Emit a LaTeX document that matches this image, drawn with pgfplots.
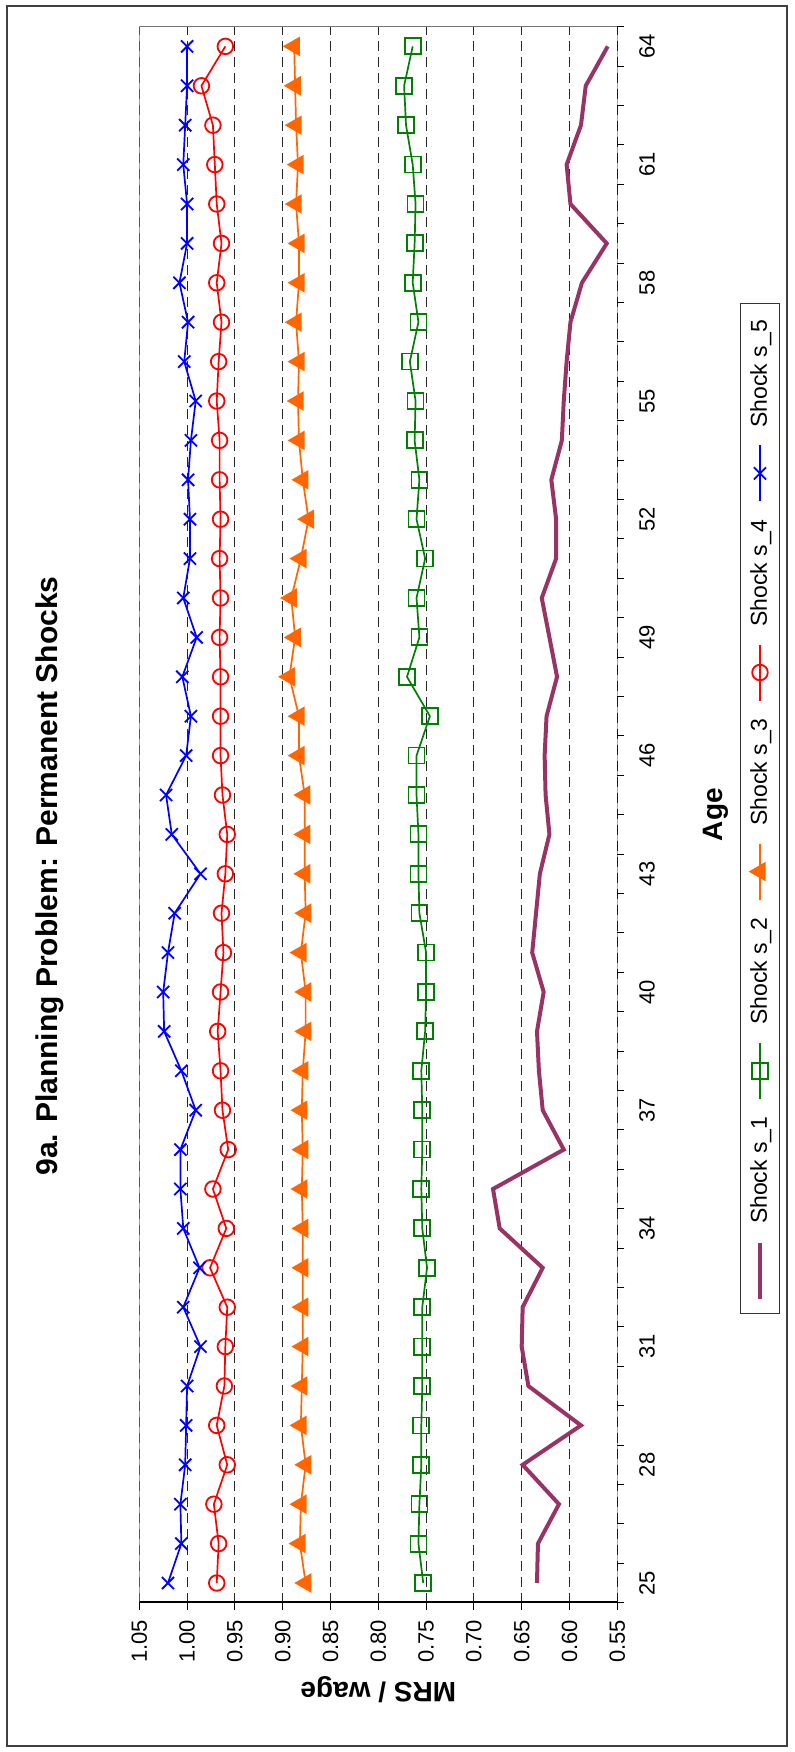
\documentclass[border=0pt]{standalone}
\usepackage{pgfplots}
\usepackage{pgfplotstable}
\pgfplotsset{compat=1.18}
\usepackage{fontspec}
\setmainfont{Liberation Sans}
\usepackage{graphicx}
\definecolor{sOne}{HTML}{993366}
\definecolor{sTwo}{HTML}{008000}
\definecolor{sThree}{HTML}{FF6600}
\definecolor{sFour}{HTML}{FF0000}
\definecolor{sFive}{HTML}{0000FF}
\pgfplotstableread{
age s1 s2 s3 s4 s5
25 0.634 0.753 0.876 0.969 1.020
26 0.633 0.758 0.882 0.967 1.006
27 0.611 0.757 0.881 0.972 1.007
28 0.649 0.755 0.876 0.958 1.002
29 0.588 0.755 0.881 0.969 1.001
30 0.643 0.754 0.880 0.961 1.000
31 0.650 0.754 0.879 0.960 0.986
32 0.649 0.754 0.879 0.958 1.004
33 0.628 0.749 0.879 0.976 0.987
34 0.673 0.754 0.879 0.959 1.004
35 0.680 0.755 0.880 0.973 1.007
36 0.606 0.754 0.879 0.957 1.007
37 0.628 0.754 0.880 0.963 0.991
38 0.632 0.755 0.879 0.965 1.006
39 0.634 0.751 0.876 0.968 1.024
40 0.627 0.750 0.876 0.965 1.025
41 0.639 0.750 0.881 0.962 1.020
42 0.635 0.757 0.876 0.964 1.013
43 0.631 0.758 0.877 0.960 0.986
44 0.621 0.758 0.877 0.958 1.016
45 0.625 0.760 0.877 0.963 1.022
46 0.626 0.760 0.883 0.965 1.001
47 0.624 0.746 0.883 0.965 0.996
48 0.613 0.770 0.893 0.965 1.005
49 0.621 0.757 0.887 0.966 0.990
50 0.629 0.760 0.891 0.965 1.004
51 0.614 0.751 0.881 0.966 0.997
52 0.614 0.760 0.873 0.965 0.997
53 0.619 0.757 0.879 0.966 0.999
54 0.608 0.762 0.883 0.966 0.996
55 0.606 0.761 0.884 0.969 0.991
56 0.603 0.767 0.883 0.967 1.003
57 0.599 0.758 0.886 0.964 0.999
58 0.587 0.764 0.883 0.969 1.008
59 0.561 0.762 0.883 0.964 1.000
60 0.599 0.761 0.886 0.969 1.000
61 0.603 0.764 0.884 0.971 1.004
62 0.588 0.771 0.886 0.973 1.002
63 0.583 0.773 0.887 0.985 1.000
64 0.560 0.764 0.888 0.960 1.000
}\datatable
\begin{document}
\rotatebox{90}{%
\begin{tikzpicture}
\useasboundingbox (0,0) rectangle (876pt,397pt);
\draw[line width=1.2pt, color=black!75] (3pt,3.5pt) rectangle (873pt,393.5pt);
\begin{axis}[
  at={(74.65pt,88.35pt)}, anchor=south west,
  scale only axis, width=788pt, height=239pt,
  xmin=24.5, xmax=64.5, ymin=0.55, ymax=1.05,
  xtick={25,28,31,34,37,40,43,46,49,52,55,58,61,64},
  minor xtick={24.5,25.5,...,64.5},
  ytick={0.55,0.60,0.65,0.70,0.75,0.80,0.85,0.90,0.95,1.00,1.05},
  tick align=outside,
  xtick pos=lower, ytick pos=left,
  major tick length=3.5pt, minor tick length=3.5pt,
  major x tick style={draw=none},
  tick style={black, line width=0.5pt},
  minor x tick style={black, line width=0.5pt},
  axis line style={draw=none},
  ymajorgrids,
  major grid style={dash pattern=on 5pt off 3pt, black!85, line width=0.45pt},
  ticklabel style={font=\fontsize{11}{13}\selectfont},
  /pgf/number format/assume math mode=true,
  yticklabel style={/pgf/number format/fixed, /pgf/number format/fixed zerofill, /pgf/number format/precision=2, xshift=-1.5pt},
  xticklabel style={yshift=-4pt},
  xlabel={Age},
  xlabel style={font=\bfseries\fontsize{14}{16}\selectfont, at={(axis description cs:0.5,-0.2065)}, anchor=center},
  ylabel={MRS / wage},
  ylabel style={font=\bfseries\fontsize{14}{16}\selectfont, at={(axis description cs:-0.0554,0.5)}, anchor=center},
  title={9a. Planning Problem: Permanent Shocks},
  title style={font=\bfseries\fontsize{15}{18}\selectfont, at={(axis description cs:0.4611,1.1617)}, anchor=center},
  legend columns=5,
  legend style={at={(axis description cs:0.5039,-0.2985)}, anchor=center, draw=black!80, line width=0.5pt,
    font=\fontsize{11.5}{13}\selectfont, inner xsep=6.5pt, inner ysep=3pt, column sep=6.5pt},
  legend image code/.code={\draw[mark repeat=2,mark phase=2] plot coordinates {(0pt,0pt) (14pt,0pt) (28pt,0pt)};},
]
\addplot[sOne, line width=2pt, no markers] table[x=age, y=s1] {\datatable};
\addlegendentry{Shock s\_1}
\addplot[sTwo, line width=0.85pt, mark=square, mark size=4pt, mark options={solid, line width=0.9pt}] table[x=age, y=s2] {\datatable};
\addlegendentry{Shock s\_2}
\addplot[sThree, line width=0.85pt, mark=triangle*, mark size=4.8pt, mark options={solid}] table[x=age, y=s3] {\datatable};
\addlegendentry{Shock s\_3}
\addplot[sFour, line width=0.85pt, mark=o, mark size=3.9pt, mark options={solid, line width=0.9pt}] table[x=age, y=s4] {\datatable};
\addlegendentry{Shock s\_4}
\addplot[sFive, line width=0.85pt, mark=x, mark size=4.3pt, mark options={solid, line width=0.9pt}] table[x=age, y=s5] {\datatable};
\addlegendentry{Shock s\_5}
\draw[black!55, line width=0.6pt] (axis cs:24.5,1.05) -- (axis cs:64.5,1.05) -- (axis cs:64.5,0.55);
\draw[black, line width=0.6pt] (axis cs:24.5,0.55) -- (axis cs:64.5,0.55);
\draw[black, line width=1.5pt] (axis cs:24.5,0.55) -- (axis cs:24.5,1.05);
\end{axis}
\end{tikzpicture}}
\end{document}
